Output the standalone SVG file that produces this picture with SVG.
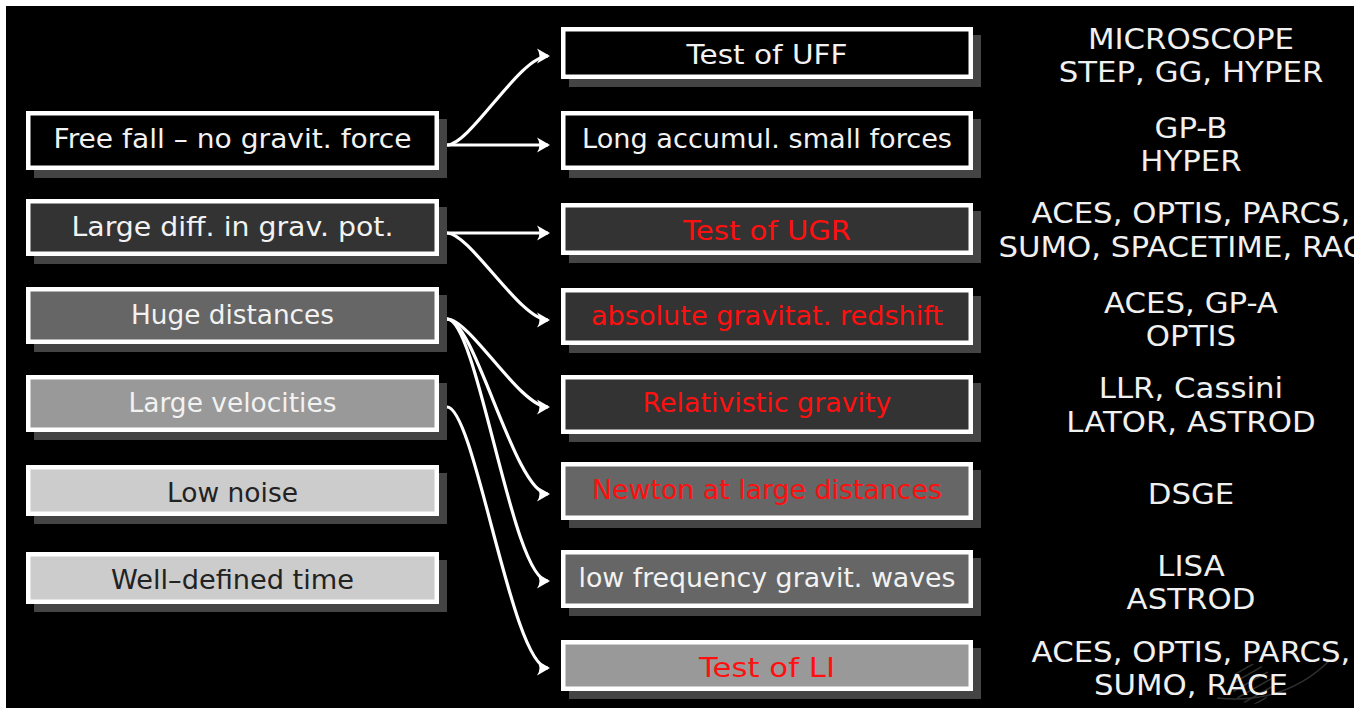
<svg xmlns="http://www.w3.org/2000/svg" width="1361" height="708" viewBox="0 0 1361 708">
<style>
.shadow{fill:#444}
.box{stroke:#fff;stroke-width:4.5}
.bt{font-family:"DejaVu Sans",sans-serif;font-size:26px;text-anchor:middle}
.w{fill:#f2f2f2}
.r{fill:#ff1010}
.d{fill:#222}
.conn{fill:none;stroke:#fff;stroke-width:3.2}
.lst{font-family:"DejaVu Sans",sans-serif;font-size:27.5px;text-anchor:middle;fill:#f0f0f0}
</style>
<defs>
<marker id="arr" markerUnits="userSpaceOnUse" markerWidth="20" markerHeight="20" refX="0" refY="0" viewBox="-12 -10 14 20" orient="auto" overflow="visible">
<path d="M2,0 L-11,-7.5 Q-6,0 -11,7.5 Z" fill="#fff"/>
</marker>
<clipPath id="frame"><rect x="6" y="6" width="1348" height="702"/></clipPath>
<clipPath id="globe"><circle cx="1252" cy="684" r="20"/></clipPath>
</defs>
<rect x="0" y="0" width="1361" height="708" fill="#fff"/>
<rect x="6" y="6" width="1348" height="702" fill="#000"/>

<g id="logo" opacity="0.9">
<g clip-path="url(#globe)" stroke="#353535" stroke-width="1.5">
<line x1="1225" y1="680" x2="1260" y2="660"/>
<line x1="1225" y1="688" x2="1268" y2="663"/>
<line x1="1227" y1="695" x2="1275" y2="668"/>
<line x1="1230" y1="702" x2="1278" y2="675"/>
<line x1="1236" y1="707" x2="1280" y2="682"/>
<line x1="1244" y1="710" x2="1282" y2="689"/>
</g>
<path d="M1217,698 Q1285,705 1330,660" fill="none" stroke="#353535" stroke-width="1.5"/>
</g>

<g id="left-1"><rect class="shadow" x="34" y="119" width="413" height="59"/><rect class="box" x="28.25" y="113.25" width="408.5" height="54.5" fill="#000"/><text class="bt w" x="232.5" y="148" textLength="358" lengthAdjust="spacingAndGlyphs">Free fall – no gravit.  force</text></g>
<g id="left-2"><rect class="shadow" x="34" y="207" width="413" height="57"/><rect class="box" x="28.25" y="201.25" width="408.5" height="52.5" fill="#333"/><text class="bt w" x="232.5" y="235.5" textLength="322" lengthAdjust="spacingAndGlyphs">Large diff.  in grav.  pot.</text></g>
<g id="left-3"><rect class="shadow" x="34" y="295" width="413" height="57"/><rect class="box" x="28.25" y="289.25" width="408.5" height="52.5" fill="#666"/><text class="bt w" x="232.5" y="323.5" textLength="203" lengthAdjust="spacingAndGlyphs">Huge distances</text></g>
<g id="left-4"><rect class="shadow" x="34" y="383" width="413" height="57"/><rect class="box" x="28.25" y="377.25" width="408.5" height="52.5" fill="#999"/><text class="bt w" x="232.5" y="411.5" textLength="208" lengthAdjust="spacingAndGlyphs">Large velocities</text></g>
<g id="left-5"><rect class="shadow" x="34" y="473" width="413" height="51"/><rect class="box" x="28.25" y="467.25" width="408.5" height="46.5" fill="#ccc"/><text class="bt d" x="232.5" y="501.5" textLength="131" lengthAdjust="spacingAndGlyphs">Low noise</text></g>
<g id="left-6"><rect class="shadow" x="34" y="560" width="413" height="52"/><rect class="box" x="28.25" y="554.25" width="408.5" height="47.5" fill="#ccc"/><text class="bt d" x="232.5" y="588.5" textLength="243" lengthAdjust="spacingAndGlyphs">Well–defined time</text></g>

<g id="right-1"><rect class="shadow" x="569" y="35" width="412" height="52"/><rect class="box" x="563.25" y="29.25" width="407.5" height="47.5" fill="#000"/><text class="bt w" x="767" y="63.5" textLength="161" lengthAdjust="spacingAndGlyphs">Test of UFF</text></g>
<g id="right-2"><rect class="shadow" x="569" y="119" width="412" height="59"/><rect class="box" x="563.25" y="113.25" width="407.5" height="54.5" fill="#000"/><text class="bt w" x="767" y="148" textLength="370" lengthAdjust="spacingAndGlyphs">Long accumul.  small forces</text></g>
<g id="right-3"><rect class="shadow" x="569" y="211" width="412" height="52"/><rect class="box" x="563.25" y="205.25" width="407.5" height="47.5" fill="#333"/><text class="bt r" x="767" y="239.5" textLength="168" lengthAdjust="spacingAndGlyphs">Test of UGR</text></g>
<g id="right-4"><rect class="shadow" x="569" y="296" width="412" height="57"/><rect class="box" x="563.25" y="290.25" width="407.5" height="52.5" fill="#333"/><text class="bt r" x="767" y="324.5" textLength="352" lengthAdjust="spacingAndGlyphs">absolute gravitat.  redshift</text></g>
<g id="right-5"><rect class="shadow" x="569" y="383" width="412" height="59"/><rect class="box" x="563.25" y="377.25" width="407.5" height="54.5" fill="#333"/><text class="bt r" x="767" y="411.5" textLength="249" lengthAdjust="spacingAndGlyphs">Relativistic gravity</text></g>
<g id="right-6"><rect class="shadow" x="569" y="470" width="412" height="58"/><rect class="box" x="563.25" y="464.25" width="407.5" height="53.5" fill="#666"/><text class="bt r" x="767" y="498.5" textLength="350" lengthAdjust="spacingAndGlyphs">Newton at large distances</text></g>
<g id="right-7"><rect class="shadow" x="569" y="558" width="412" height="58"/><rect class="box" x="563.25" y="552.25" width="407.5" height="53.5" fill="#666"/><text class="bt w" x="767" y="586.5" textLength="377" lengthAdjust="spacingAndGlyphs">low frequency gravit.  waves</text></g>
<g id="right-8"><rect class="shadow" x="569" y="648" width="412" height="51"/><rect class="box" x="563.25" y="642.25" width="407.5" height="46.5" fill="#999"/><text class="bt r" x="767" y="676.5" textLength="136" lengthAdjust="spacingAndGlyphs">Test of LI</text></g>

<g id="connectors" class="conn" marker-end="url(#arr)">
<path d="M447,145 C470,145 520,56 548,56"/>
<path d="M447,145 L548,145"/>
<path d="M447,233 L548,233"/>
<path d="M447,233 C470,233 520,320 548,320"/>
<path d="M447,319 C470,319 520,407 548,407"/>
<path d="M447,319 C475,319 515,494 548,494"/>
<path d="M447,319 C478,319 512,581 548,581"/>
<path d="M447,407 C475,407 512,668 548,668"/>
</g>

<g id="missions" clip-path="url(#frame)">
<g transform="translate(1191 0) scale(1.12 1) translate(-1191 0)">
<text class="lst" x="1191" y="49">MICROSCOPE</text>
<text class="lst" x="1191" y="82">STEP, GG, HYPER</text>
<text class="lst" x="1191" y="138">GP-B</text>
<text class="lst" x="1191" y="171">HYPER</text>
<text class="lst" x="1191" y="223">ACES, OPTIS, PARCS,</text>
<text class="lst" x="1191" y="257">SUMO, SPACETIME, RACE</text>
<text class="lst" x="1191" y="313">ACES, GP-A</text>
<text class="lst" x="1191" y="346">OPTIS</text>
<text class="lst" x="1191" y="398">LLR, Cassini</text>
<text class="lst" x="1191" y="432">LATOR, ASTROD</text>
<text class="lst" x="1191" y="504">DSGE</text>
<text class="lst" x="1191" y="576">LISA</text>
<text class="lst" x="1191" y="609">ASTROD</text>
<text class="lst" x="1191" y="662">ACES, OPTIS, PARCS,</text>
<text class="lst" x="1191" y="695">SUMO, RACE</text>
</g>
</g>
</svg>
